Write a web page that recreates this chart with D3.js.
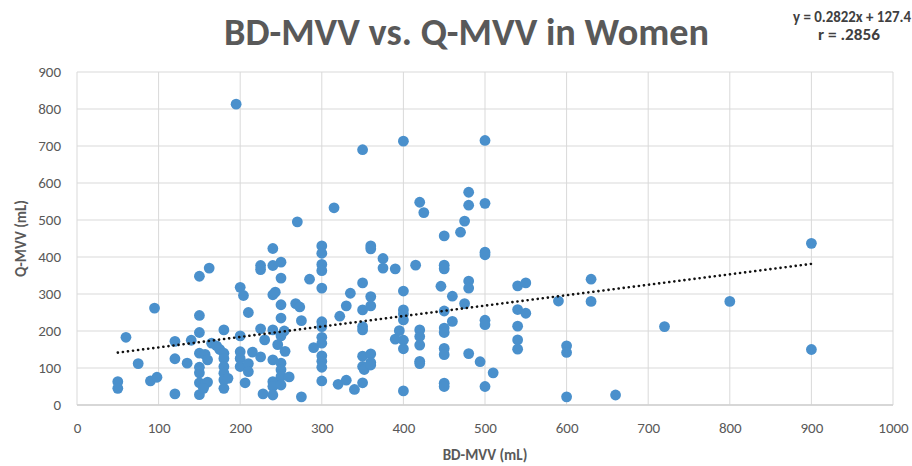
<!DOCTYPE html>
<html>
<head>
<meta charset="utf-8">
<script src="https://cdn.jsdelivr.net/npm/d3@7"></script>
<style>
  body { margin: 0; background: #fff; }
  text { font-family: Carlito, "Liberation Sans Narrow", "Open Sans", sans-serif; fill: #595959; }
  .grid line { stroke: #d9d9d9; stroke-width: 1; }
  .axis text { font-size: 15px; }
  .axis path, .axis line { display: none; }
</style>
</head>
<body>
<svg id="plot"></svg>
<script>
// Data: BD-MVV (x) vs Q-MVV (y), grouped by column
const bdMvv = [
  50,50,60,75,90,98,95,120,120,120,135,140,
  150,150,150,150,150,150,150,150,157,160,157,160,155,162,165,171,175,
  180,180,180,180,180,180,180,185,195,
  200,204,200,200,200,200,210,210,210,206,215,225,225,230,228,225,225,
  240,240,240,243,240,240,240,240,240,
  250,250,250,250,250,246,250,250,250,250,254,255,260,270,268,273,275,275,285,290,
  300,300,300,300,300,300,300,300,300,300,300,300,300,
  315,320,322,330,330,335,340,
  350,350,350,350,350,350,350,350,352,360,360,360,360,360,360,360,
  375,375,390,390,395,400,400,400,400,400,400,400,400,
  415,420,425,420,420,420,420,420,
  446,450,450,450,450,450,450,450,450,450,450,
  460,460,470,475,475,480,480,480,480,480,494,
  500,500,500,500,500,500,500,510,
  540,550,540,550,540,540,540,590,600,600,600,630,630,660,720,800,900,900];
const qMvv = [
  63,45,183,112,65,75,262,172,125,30,113,175,
  348,242,196,140,102,87,60,28,137,122,57,62,45,370,167,160,150,
  203,140,126,104,86,68,45,72,813,
  318,296,187,144,126,104,250,112,90,60,143,130,206,176,30,377,366,
  423,377,298,305,203,122,63,50,27,
  386,343,271,235,187,163,113,95,77,54,200,145,76,495,274,265,228,22,340,155,
  430,410,380,363,316,225,212,183,167,133,118,102,65,
  533,56,240,268,67,302,42,
  690,330,257,212,203,132,104,60,96,430,422,293,268,138,115,108,
  396,370,368,178,201,713,308,257,246,230,175,152,38,
  378,548,520,203,185,162,118,112,
  321,457,378,368,254,208,196,153,136,59,50,
  294,226,467,497,274,575,540,335,316,139,117,
  715,545,413,406,229,217,50,87,
  322,330,258,248,213,176,151,281,160,142,22,340,280,27,212,280,437,150];
const points = bdMvv.map((x, i) => ({ x: x, y: qMvv[i] }));

// Trend line from the chart label
const slope = 0.2822, intercept = 127.4;
const trendX = [50, 900];

const xTicks = d3.range(0, 1001, 100);
const yTicks = d3.range(0, 901, 100);

const W = 912, H = 466;
const margin = { top: 72, right: 19, bottom: 61, left: 77 };
const width = W - margin.left - margin.right;
const height = H - margin.top - margin.bottom;

const svg = d3.select("#plot").attr("width", W).attr("height", H);
const g = svg.append("g").attr("transform", `translate(${margin.left},${margin.top})`);

const x = d3.scaleLinear().domain([0, 1000]).range([0, width]);
const y = d3.scaleLinear().domain([0, 900]).range([height, 0]);

// gridlines
g.append("g").attr("class", "grid")
  .selectAll("line").data(yTicks).enter().append("line")
  .attr("x1", 0).attr("x2", width)
  .attr("y1", d => y(d)).attr("y2", d => y(d));
g.append("g").attr("class", "grid")
  .selectAll("line").data(xTicks).enter().append("line")
  .attr("y1", 0).attr("y2", height)
  .attr("x1", d => x(d)).attr("x2", d => x(d));

// bottom axis line
g.append("line").attr("x1", 0).attr("x2", width).attr("y1", height).attr("y2", height)
  .attr("stroke", "#d0d0d0").attr("stroke-width", 1.5);

// axes (labels only)
g.append("g").attr("class", "axis")
  .attr("transform", `translate(0,${height})`)
  .call(d3.axisBottom(x).tickValues(xTicks).tickFormat(d3.format("d")).tickSize(0).tickPadding(17));
g.append("g").attr("class", "axis")
  .call(d3.axisLeft(y).tickValues(yTicks).tickFormat(d3.format("d")).tickSize(0).tickPadding(16));

// points
g.selectAll(".dot").data(points).enter().append("circle")
  .attr("class", "dot")
  .attr("cx", d => x(d.x)).attr("cy", d => y(d.y))
  .attr("r", 5.4).attr("fill", "#4a90cc");

// trend line
g.append("line")
  .attr("x1", x(trendX[0])).attr("y1", y(slope * trendX[0] + intercept))
  .attr("x2", x(trendX[1])).attr("y2", y(slope * trendX[1] + intercept))
  .attr("stroke", "#111").attr("stroke-width", 2.6)
  .attr("stroke-linecap", "round").attr("stroke-dasharray", "0.1 5");

// title
svg.append("text")
  .attr("x", 224).attr("y", 45)
  .attr("textLength", 485).attr("lengthAdjust", "spacingAndGlyphs")
  .style("font-size", "38px").style("font-weight", "bold")
  .text("BD-MVV vs. Q-MVV  in Women");

// equation
svg.append("text")
  .attr("x", 793).attr("y", 22)
  .attr("textLength", 118).attr("lengthAdjust", "spacingAndGlyphs")
  .style("font-size", "15px").style("font-weight", "bold").style("fill", "#404040")
  .text("y = 0.2822x + 127.4");
svg.append("text")
  .attr("x", 849).attr("y", 40).attr("text-anchor", "middle")
  .attr("textLength", 62).attr("lengthAdjust", "spacingAndGlyphs")
  .style("font-size", "15px").style("font-weight", "bold").style("fill", "#404040")
  .text("r = .2856");

// axis titles
svg.append("text")
  .attr("x", margin.left + width / 2).attr("y", 460)
  .attr("text-anchor", "middle")
  .style("font-size", "15px").style("font-weight", "bold")
  .text("BD-MVV (mL)");
svg.append("text")
  .attr("transform", `translate(26,${margin.top + height / 2}) rotate(-90)`)
  .attr("text-anchor", "middle")
  .style("font-size", "15px").style("font-weight", "bold")
  .text("Q-MVV (mL)");
</script>
</body>
</html>
